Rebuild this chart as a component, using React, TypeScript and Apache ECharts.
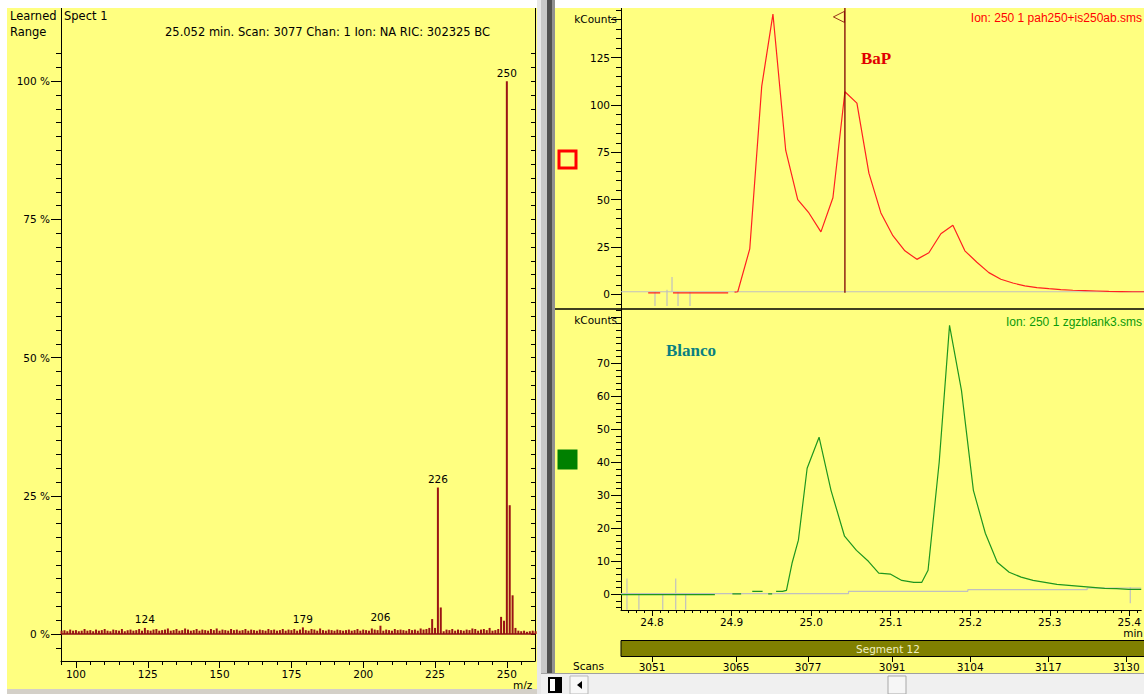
import React, { useEffect, useRef } from 'react';
import * as echarts from 'echarts';

const FONT = '"DejaVu Sans", "Liberation Sans", Arial, sans-serif';
const ARIAL = '"Liberation Sans", Arial, Helvetica, sans-serif';
const SERIF = '"Liberation Serif", "Times New Roman", serif';
const FS = 10.5;

// ---------- Mass spectrum (left panel) ----------
const mzStart = 95;
const intensities = [
  0.6, 0.7, 0.5, 0.8, 0.6, 0.7, 0.5, 0.6, 0.9, 0.6,
  0.7, 0.5, 0.8, 0.6, 0.7, 0.9, 0.6, 0.5, 0.8, 0.7,
  0.6, 0.9, 0.5, 0.7, 0.8, 0.6, 0.7, 0.9, 0.6, 1.1,
  0.7, 0.6, 0.8, 0.9, 0.6, 0.7, 0.8, 1.0, 0.6, 0.7,
  0.9, 0.6, 0.7, 1.0, 0.8, 0.6, 0.7, 0.9, 0.6, 0.8,
  0.7, 0.6, 0.9, 0.7, 1.0, 0.6, 0.8, 0.7, 0.6, 0.9,
  0.7, 0.8, 0.6, 0.7, 0.9, 0.6, 0.8, 0.7, 0.6, 0.8,
  0.7, 0.6, 0.9, 0.7, 0.8, 0.6, 0.7, 0.9, 0.6, 0.8,
  0.7, 0.9, 0.6, 0.8, 1.2, 0.7, 0.6, 0.9, 0.8, 0.6,
  1.0, 0.7, 0.6, 0.8, 0.7, 0.6, 0.8, 0.7, 0.6, 0.7,
  0.8, 0.6, 0.7, 0.9, 0.6, 0.8, 0.7, 0.6, 1.0, 0.8,
  0.7, 1.5, 0.6, 0.8, 0.7, 0.6, 0.9, 0.7, 0.8, 0.7,
  0.6, 0.9, 0.7, 0.8, 0.6, 1.0, 0.8, 0.9, 1.1, 2.7,
  1.1, 26.5, 4.8, 0.5, 0.8, 0.7, 0.9, 0.6, 0.8, 0.7,
  0.6, 0.8, 0.7, 1.0, 0.9, 0.6, 0.8, 0.9, 0.7, 1.1,
  0.6, 0.7, 0.9, 3.1, 2.4, 100, 23.3, 7.0, 1.1, 0.6,
  0.5, 0.6, 0.4, 0.5, 0.6, 0.5,
];
const labeledMasses = [124, 179, 206, 226, 250];
const mzMajorTicks = [100, 125, 150, 175, 200, 225, 250];
const pctMajorTicks = [0, 25, 50, 75, 100];

// ---------- Chromatograms (right panel) ----------
const redTime = [
  24.795, 24.810, 24.818, 24.826, 24.895, 24.899, 24.903, 24.907, 24.922, 24.937, 24.951,
  24.967, 24.982, 24.996, 25.011, 25.026, 25.041, 25.056, 25.071, 25.086, 25.101,
  25.116, 25.131, 25.146, 25.161, 25.176, 25.191, 25.206, 25.221, 25.236, 25.251,
  25.266, 25.281, 25.296, 25.311, 25.326, 25.341, 25.356, 25.371, 25.386, 25.401, 25.416,
];
const redCounts = [
  0.8, 0.8, null, 0.8, 0.8, null, 1.2, 1.4, 24, 110, 148,
  76, 50, 43, 33, 51, 107, 101, 64, 43, 31,
  23, 18.5, 22, 32, 36.5, 23, 17, 11.5, 8, 6,
  4.5, 3.6, 3.0, 2.5, 2.2, 2.0, 1.8, 1.6, 1.5, 1.4, 1.4,
];
const greenTime = [
  24.761, 24.879, 24.890, 24.901, 24.912, 24.919, 24.926, 24.939, 24.942, 24.946,
  24.951, 24.953, 24.956, 24.964, 24.969, 24.976, 24.984, 24.995, 25.010, 25.025,
  25.042, 25.057, 25.072, 25.085, 25.100, 25.114, 25.129, 25.139, 25.147, 25.161,
  25.174, 25.189, 25.204, 25.219, 25.234, 25.249, 25.264, 25.279, 25.294, 25.309,
  25.324, 25.339, 25.354, 25.369, 25.384, 25.399, 25.415,
];
const greenCounts = [
  -0.1, -0.1, null, 0.1, 0.1, null, 0.9, 0.9, null, 0.1,
  0.1, null, 0.9, 0.9, 1.2, 9.4, 16.4, 38.2, 47.6, 31.5,
  17.6, 13.3, 10, 6.4, 6.1, 4.2, 3.6, 3.6, 7.3, 40,
  81.5, 61.8, 31.5, 18.5, 9.7, 6.7, 5.2, 4.2, 3.6, 3.0,
  2.7, 2.4, 2.1, 1.8, 1.7, 1.5, 1.5,
];
const grayTopTime = [24.761, 25.415];
const grayTopCounts = [1.4, 1.4];
const grayBottomTime = [24.761, 25.047, 25.047, 25.197, 25.197, 25.347, 25.347, 25.415];
const grayBottomCounts = [0.2, 0.2, 0.9, 0.9, 1.4, 1.4, 1.9, 1.9];
const grayTopTickTime = [24.8035, 24.8185, 24.8248, 24.8323, 24.8473];
const grayTopTickFrom = [1.4, 2.4, 9.2, 1.4, 1.4];
const grayTopTickTo = [-6.1, -6.1, 1.4, -6.1, -6.1];
const grayBottomTickTime = [24.7685, 24.7835, 24.8135, 24.8298, 24.8423, 25.4012];
const grayBottomTickFrom = [4.8, 0.2, 0.2, 4.8, 0.2, 2.1];
const grayBottomTickTo = [-4.7, -4.7, -4.7, -4.7, -4.7, -2.7];
const markerTime = 25.041;
const markerFrom = 0.9;
const markerTo = 151.2;
const markerArrowCounts = 146.5;

const timeMajorTicks = [24.8, 24.9, 25.0, 25.1, 25.2, 25.3, 25.4];
const scanTicks = [3051, 3065, 3077, 3091, 3104, 3117, 3130];
const topCountTicks = [0, 25, 50, 75, 100, 125];
const topUnitAt = 145;
const bottomCountTicks = [0, 10, 20, 30, 40, 50, 60, 70];
const bottomUnitAt = 84;

function steps(from: number, to: number, step: number, exclude: number[]) {
  const out: number[] = [];
  const n = Math.round((to - from) / step);
  for (let i = 0; i <= n; i++) {
    const v = Math.round((from + i * step) * 1000) / 1000;
    if (!exclude.some((e) => Math.abs(e - v) < 1e-6)) out.push(v);
  }
  return out;
}

const BLACK = '#000';
const lbl = { fontSize: FS, color: BLACK, fontFamily: FONT };

function majorX(grid: number, min: number, max: number, ticks: number[], len: number, margin: number, fmt?: any, offset = 0, showLine = true) {
  return {
    type: 'value', gridIndex: grid, min, max, position: 'bottom', offset,
    axisLine: { show: showLine, onZero: false, lineStyle: { color: BLACK, width: 1 } },
    axisTick: { show: true, customValues: ticks, length: len, lineStyle: { color: BLACK } },
    axisLabel: { show: true, customValues: ticks, margin, formatter: fmt, ...lbl },
    splitLine: { show: false },
  };
}
function minorX(grid: number, min: number, max: number, ticks: number[], len: number) {
  return {
    type: 'value', gridIndex: grid, min, max, position: 'bottom',
    axisLine: { show: false, onZero: false },
    axisTick: { show: true, customValues: ticks, length: len, lineStyle: { color: BLACK } },
    axisLabel: { show: false }, splitLine: { show: false },
  };
}
function majorY(grid: number, min: number, max: number, ticks: number[], labels: number[], len: number, margin: number, fmt?: any) {
  return {
    type: 'value', gridIndex: grid, min, max, position: 'left',
    axisLine: { show: true, onZero: false, lineStyle: { color: BLACK, width: 1 } },
    axisTick: { show: true, customValues: ticks, length: len, lineStyle: { color: BLACK } },
    axisLabel: { show: true, customValues: labels, margin, formatter: fmt, ...lbl },
    splitLine: { show: false },
  };
}
function minorY(grid: number, min: number, max: number, ticks: number[], len: number, position = 'left', inside = false, showLine = false) {
  return {
    type: 'value', gridIndex: grid, min, max, position,
    axisLine: { show: showLine, onZero: false, lineStyle: { color: BLACK, width: 1 } },
    axisTick: { show: true, inside, customValues: ticks, length: len, lineStyle: { color: BLACK } },
    axisLabel: { show: false }, splitLine: { show: false },
  };
}

function pairs(t: number[], v: (number | null)[]) {
  return t.map((x, i) => [x, v[i] === null ? '-' : v[i]]);
}
function segments(t: number[], a: number[], b: number[]) {
  const out: any[] = [];
  t.forEach((x, i) => { out.push([x, a[i]], [x, b[i]], [x, '-']); });
  return out;
}

function txt(x: number, y: number, text: string, extra: any = {}) {
  return {
    type: 'text', x, y, z: 51,
    style: { text, fill: '#000', fontSize: FS, fontFamily: FONT, textAlign: 'left', textVerticalAlign: 'middle', ...extra },
  };
}

export default function App() {
  const ref = useRef<HTMLDivElement>(null);
  useEffect(() => {
    if (!ref.current) return;
    const chart = echarts.init(ref.current, null, { renderer: 'svg' });

    const MZ_MIN = 94.8, MZ_MAX = 259.8;
    const P_MIN = -4.885, P_MAX = 113.26;
    const T_MIN = 24.761, T_MAX = 25.415;
    const C1_MIN = -7.71, C1_MAX = 151.2;
    const C2_MIN = -4.76, C2_MAX = 86.45;
    const S_MIN = 3045.83, S_MAX = 3132.49;

    const spectrumData = intensities.map((v, i) => {
      const mz = mzStart + i;
      if (labeledMasses.includes(mz)) {
        return { value: [mz, v], label: { show: true, formatter: String(mz) } };
      }
      return [mz, v];
    });

    const lineBase = {
      type: 'line', symbol: 'none', showSymbol: false, silent: true, animation: false,
      connectNulls: false,
    };

    const option: any = {
      animation: false,
      backgroundColor: '#ffff80',
      grid: [
        { left: 61, top: 8, width: 474, height: 653 },
        { left: 621, top: 8, width: 523, height: 301 },
        { left: 621, top: 309, width: 523, height: 301 },
      ],
      xAxis: [
        majorX(0, MZ_MIN, MZ_MAX, mzMajorTicks, 7, 7),
        minorX(0, MZ_MIN, MZ_MAX, steps(95, 255, 5, mzMajorTicks), 4),
        { type: 'value', gridIndex: 1, min: T_MIN, max: T_MAX, show: false },
        majorX(2, T_MIN, T_MAX, timeMajorTicks, 6, 6, (v: number) => v.toFixed(1)),
        minorX(2, T_MIN, T_MAX, steps(24.77, 25.41, 0.01, timeMajorTicks), 3),
        majorX(2, S_MIN, S_MAX, scanTicks, 5, 4, (v: number) => String(Math.round(v)), 47, false),
      ],
      yAxis: [
        majorY(0, P_MIN, P_MAX, pctMajorTicks, pctMajorTicks, 10, 11, (v: number) => v + ' %'),
        minorY(0, P_MIN, P_MAX, steps(-2.5, 105, 2.5, pctMajorTicks), 5),
        minorY(0, P_MIN, P_MAX, steps(-2.5, 105, 2.5, []), 4, 'right', true, true),
        majorY(1, C1_MIN, C1_MAX, [...topCountTicks, topUnitAt], topCountTicks, 10, 11, (v: number) => String(v)),
        minorY(1, C1_MIN, C1_MAX, steps(-5, 150, 5, [...topCountTicks, topUnitAt]), 5),
        majorY(2, C2_MIN, C2_MAX, [...bottomCountTicks, bottomUnitAt], bottomCountTicks, 10, 11, (v: number) => String(v)),
        minorY(2, C2_MIN, C2_MAX, steps(-4, 86, 2, [...bottomCountTicks, bottomUnitAt]), 5),
      ],
      series: [
        {
          type: 'bar', xAxisIndex: 0, yAxisIndex: 0, barWidth: 2, silent: true,
          itemStyle: { color: '#9a1414' },
          label: { show: false, position: 'top', distance: 3, ...lbl },
          data: spectrumData,
          markLine: {
            silent: true, symbol: 'none', label: { show: false },
            lineStyle: { color: '#8b1010', width: 1.5, type: 'solid' },
            data: [{ yAxis: 0 }],
          },
        },
        { ...lineBase, xAxisIndex: 2, yAxisIndex: 3, z: 2, lineStyle: { color: '#c0c0c0', width: 1.2 }, data: pairs(grayTopTime, grayTopCounts) },
        { ...lineBase, xAxisIndex: 2, yAxisIndex: 3, z: 2, lineStyle: { color: '#c0c0c0', width: 1.2 }, data: segments(grayTopTickTime, grayTopTickFrom, grayTopTickTo) },
        { ...lineBase, xAxisIndex: 2, yAxisIndex: 3, z: 3, lineStyle: { color: '#ff2020', width: 1.2 }, data: pairs(redTime, redCounts) },
        { ...lineBase, xAxisIndex: 2, yAxisIndex: 3, z: 4, lineStyle: { color: '#800000', width: 1.3 }, data: [[markerTime, markerFrom], [markerTime, markerTo]] },
        {
          type: 'scatter', xAxisIndex: 2, yAxisIndex: 3, z: 4, silent: true,
          symbol: 'triangle', symbolRotate: 90, symbolSize: [11, 11], symbolOffset: [-6, 0],
          itemStyle: { color: 'rgba(0,0,0,0)', borderColor: '#800000', borderWidth: 1 },
          data: [[markerTime, markerArrowCounts]],
        },
        { ...lineBase, xAxisIndex: 3, yAxisIndex: 5, z: 2, lineStyle: { color: '#c0c0c0', width: 1.2 }, data: pairs(grayBottomTime, grayBottomCounts) },
        { ...lineBase, xAxisIndex: 3, yAxisIndex: 5, z: 2, lineStyle: { color: '#c0c0c0', width: 1.2 }, data: segments(grayBottomTickTime, grayBottomTickFrom, grayBottomTickTo) },
        { ...lineBase, xAxisIndex: 3, yAxisIndex: 5, z: 3, lineStyle: { color: '#1e961e', width: 1.2 }, data: pairs(greenTime, greenCounts) },
      ],
      graphic: [
        // page margins and frames
        { type: 'rect', shape: { x: 0, y: 0, width: 1144, height: 8 }, style: { fill: '#ffffff' }, z: 100 },
        { type: 'rect', shape: { x: 0, y: 0, width: 7, height: 694 }, style: { fill: '#ffffff' }, z: 100 },
        { type: 'rect', shape: { x: 7, y: 689, width: 530, height: 5 }, style: { fill: '#d4d0c8' }, z: 100 },
        { type: 'rect', shape: { x: 537, y: 0, width: 4, height: 694 }, style: { fill: '#e8e8e8' }, z: 100 },
        { type: 'rect', shape: { x: 541, y: 0, width: 6, height: 694 }, style: { fill: '#c8c8c8' }, z: 100 },
        { type: 'rect', shape: { x: 547, y: 0, width: 5, height: 694 }, style: { fill: '#505050' }, z: 100 },
        { type: 'rect', shape: { x: 552, y: 0, width: 3, height: 694 }, style: { fill: '#909090' }, z: 100 },
        // scrollbar
        { type: 'rect', shape: { x: 541, y: 673, width: 603, height: 21 }, style: { fill: '#f0f0f0' }, z: 100 },
        { type: 'line', shape: { x1: 541, y1: 673.5, x2: 1144, y2: 673.5 }, style: { stroke: '#a0a0a0', lineWidth: 1 }, z: 101 },
        { type: 'rect', shape: { x: 548, y: 677, width: 14, height: 16 }, style: { fill: '#000' }, z: 101 },
        { type: 'rect', shape: { x: 550, y: 679, width: 5, height: 12 }, style: { fill: '#fff' }, z: 102 },
        { type: 'rect', shape: { x: 570, y: 676, width: 18, height: 18 }, style: { fill: '#f8f8f8', stroke: '#b8b8b8', lineWidth: 1 }, z: 101 },
        { type: 'polygon', shape: { points: [[582, 681], [582, 689], [577, 685]] }, style: { fill: '#000' }, z: 102 },
        { type: 'rect', shape: { x: 888, y: 676, width: 18, height: 18 }, style: { fill: '#f6f6f6', stroke: '#a8a8a8', lineWidth: 1 }, z: 101 },
        // chromatogram separator
        { type: 'line', shape: { x1: 555, y1: 309, x2: 1144, y2: 309 }, style: { stroke: '#000', lineWidth: 1.5 }, z: 50 },
        // segment bar
        { type: 'rect', shape: { x: 621, y: 640.5, width: 524, height: 16 }, style: { fill: '#808000', stroke: '#000', lineWidth: 1 }, z: 50 },
        txt(888, 649, 'Segment 12', { fill: '#f0f0c0', textAlign: 'center' }),
        txt(604, 666, 'Scans', { textAlign: 'right' }),
        txt(1143, 633, 'min', { textAlign: 'right' }),
        // unit labels of the count axes
        txt(617, 19, 'kCounts', { textAlign: 'right' }),
        txt(617, 320, 'kCounts', { textAlign: 'right' }),
        // marker squares
        { type: 'rect', shape: { x: 559, y: 151, width: 17, height: 17 }, style: { fill: 'none', stroke: '#ff0000', lineWidth: 3 }, z: 50 },
        { type: 'rect', shape: { x: 557.5, y: 449.5, width: 20, height: 20 }, style: { fill: '#008000' }, z: 50 },
        // titles / annotations
        txt(876, 58, 'BaP', { fill: '#e00000', fontSize: 17, fontWeight: 'bold', fontFamily: SERIF, textAlign: 'center' }),
        txt(691, 350, 'Blanco', { fill: '#0a8080', fontSize: 17, fontWeight: 'bold', fontFamily: SERIF, textAlign: 'center' }),
        txt(1142, 18, 'Ion: 250 1 pah250+is250ab.sms', { fill: '#ff0000', fontSize: 12, fontFamily: ARIAL, textAlign: 'right' }),
        txt(1142, 322, 'Ion: 250 1 zgzblank3.sms', { fill: '#0a9a0a', fontSize: 12, fontFamily: ARIAL, textAlign: 'right' }),
        // left header
        txt(10, 16, 'Learned', { fontSize: 11.5 }),
        txt(10, 32, 'Range', { fontSize: 11.5 }),
        txt(64, 16, 'Spect 1', { fontSize: 11.5 }),
        txt(165, 32, '25.052 min. Scan: 3077 Chan: 1 Ion: NA RIC: 302325 BC', { fontSize: 11.5 }),
        txt(513, 685, 'm/z'),
      ],
    };

    chart.setOption(option);
    return () => chart.dispose();
  }, []);

  return <div ref={ref} style={{ position: 'absolute', left: 0, top: 0, width: 1144, height: 694 }} />;
}
